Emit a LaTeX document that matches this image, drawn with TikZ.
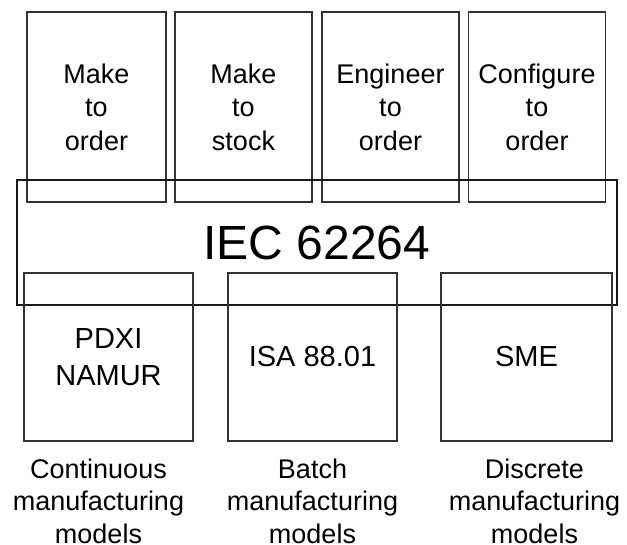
\documentclass[tikz,border=0pt]{standalone}
\usepackage{fontspec}
\setmainfont{Liberation Sans}

\begin{document}
\begin{tikzpicture}[x=1pt, y=-1pt, node distance=147pt,
		topbox/.style={rectangle,draw=black!80,line width=1.2pt,inner sep=0pt,
			minimum width=137pt,minimum height=190pt,align=center,
			font=\fontsize{27}{33.5}\selectfont},
		iecbox/.style={rectangle,draw=black!90,line width=1.2pt,inner sep=0pt,
			minimum width=600pt,minimum height=125pt,font=\fontsize{48}{56}\selectfont},
		stdbox/.style={rectangle,draw=black!80,line width=1.2pt,inner sep=0pt,
			minimum width=169pt,minimum height=168pt,align=center,
			font=\fontsize{29}{37}\selectfont},
		caption/.style={align=center,inner sep=0pt,font=\fontsize{27}{32.5}\selectfont}
		]
		\useasboundingbox (0,0) rectangle (627,545);

		\node[topbox, minimum width=139pt](MTO) at (96.5,107){Make\\to\\order};
		\node[topbox, right of = MTO](MTS){Make\\to\\stock};
		\node[topbox, right of = MTS](ETO){Engineer\\to\\order};
		\node[topbox, right of = ETO, xshift = -0.5pt](CTO){Configure\\to\\order};

		\node[iecbox](IEC) at (317,242.5){IEC 62264};

		\node[stdbox](PDX) at (108.5,357){PDXI\\NAMUR};
		\node[stdbox, right of = PDX, xshift = 57pt](ISA){ISA 88.01};
		\node[stdbox, right of = ISA, xshift = 67pt, minimum width=171pt](SME){SME};

		\node[caption, below of = PDX, xshift = -10pt, yshift = 3pt](CMM){Continuous\\manufacturing\\models};
		\node[caption, below of = ISA, yshift = 3pt](BMM){Batch\\manufacturing\\models};
		\node[caption, below of = SME, xshift = 8pt, yshift = 3pt](DMM){Discrete\\manufacturing\\models};

	\end{tikzpicture}
\end{document}
